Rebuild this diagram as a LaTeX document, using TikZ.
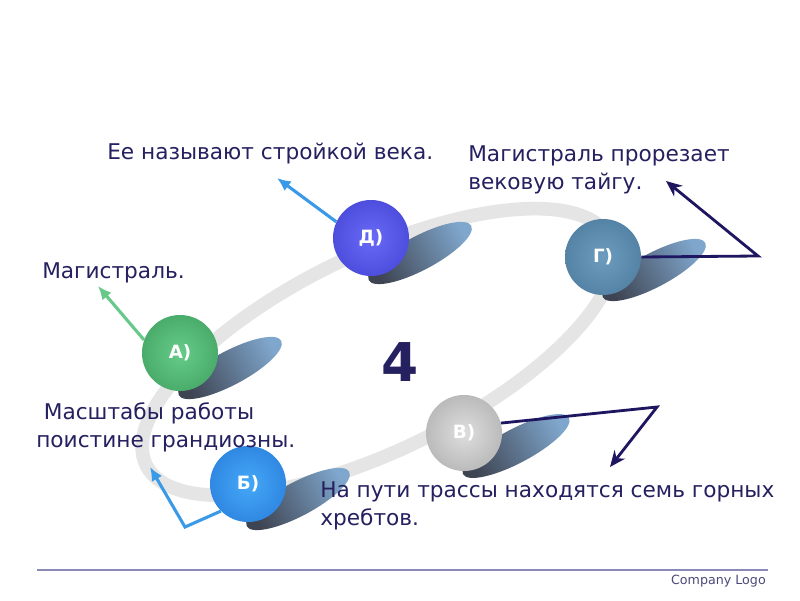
\documentclass[tikz,border=0pt]{standalone}
\usepackage{fontspec}
\setmainfont{DejaVu Sans}
\usepackage{tikz}
\usetikzlibrary{arrows.meta, positioning, calc}
\definecolor{inkblue}{HTML}{25205F}
\definecolor{ringgray}{HTML}{E5E5E5}
\definecolor{shaddark}{HTML}{3E4452}
\definecolor{shadlight}{HTML}{7FA6CC}
\definecolor{arrnavy}{HTML}{1E1660}
\definecolor{arrsky}{HTML}{3A9AE8}
\definecolor{arrgreen}{HTML}{66C98A}
\definecolor{logoline}{HTML}{8A8AB8}
\definecolor{logotext}{HTML}{4A4A7A}
\definecolor{ballin}{HTML}{FFFFFF}
\definecolor{ballout}{HTML}{000000}
\pgfdeclareradialshading[ballin,ballout]{ballshade}{\pgfpoint{0bp}{0bp}}{color(0bp)=(ballin); color(50bp)=(ballout)}
\tikzset{
  ball/.style 2 args={circle, minimum size=1.9cm, inner sep=0pt, font=\fontsize{13}{15}\selectfont\bfseries, text=white,
    /utils/exec={\definecolor{ballin}{HTML}{#1}\definecolor{ballout}{HTML}{#2}}, shade, shading=ballshade},
  ring/.style={draw=ringgray, line width=0.34cm},
  shadowblob/.style={left color=shaddark, right color=shadlight, shading angle=118},
  caption/.style={inner sep=0pt, align=left, font=\fontsize{15.4}{20}\selectfont, text=inkblue},
  navyflow/.style={-{Stealth[length=4mm, width=3.4mm]}, draw=arrnavy, line width=2pt},
  skyflow/.style={-{Latex[length=3.4mm, width=3mm]}, draw=arrsky, line width=2.2pt},
  greenflow/.style={-{Latex[length=3.4mm, width=3mm]}, draw=arrgreen, line width=2.2pt}
}
\begin{document}
\begin{tikzpicture}[x=0.025cm, y=0.025cm]
\useasboundingbox (0,0) rectangle (800,600);
\fill[white] (0,0) rectangle (800,600);
% orbit
\draw[ring] (378,248) ellipse [x radius=258, y radius=98, rotate=26];
% shadows
\shade[shadowblob] (230,232) ellipse [x radius=58, y radius=17, rotate=28];
\shade[shadowblob] (298,101) ellipse [x radius=58, y radius=17, rotate=28];
\shade[shadowblob] (516,154) ellipse [x radius=60, y radius=17, rotate=28];
\shade[shadowblob] (654,330) ellipse [x radius=58, y radius=17, rotate=28];
\shade[shadowblob] (420,347) ellipse [x radius=58, y radius=17, rotate=28];
% balls
\node[ball={66CC88}{2E8C4E}] (a) at (180,247) {А)};
\node[ball={45A8F8}{1A68CC}] (b) at (248,116) {Б)};
\node[ball={DEDEDE}{979797}] (v) at (464,167) {В)};
\node[ball={6C9CBE}{3C6A8C}] (g) at (603,343) {Г)};
\node[ball={6A6AF8}{3232C4}] (d) at (371,362) {Д)};
\node[font=\fontsize{38}{40}\selectfont\bfseries, text=inkblue] (four) at (400,238) {4};
% captions
\node[caption, anchor=west] (tvek) at (107,446) {Ее называют стройкой века.};
\node[caption, anchor=north west] (ttaiga) at (468,455) {Магистраль прорезает\\вековую тайгу.};
\node[caption, anchor=west] (tmag) at (42,327) {Магистраль.};
\node[caption, anchor=north west] (tmasht) at (36,198) {\hspace{0.35em}Масштабы работы\\поистине грандиозны.};
\node[caption, anchor=north west] (tkhreb) at (320,119) {На пути трассы находятся семь горных\\хребтов.};
% arrows
\coordinate (dtip) at (277,422);
\coordinate (atip) at (98,314);
\coordinate (bknee) at (185,73);
\coordinate (btip) at (150,133);
\coordinate (vknee) at (657,193);
\coordinate (vtip) at (610,133);
\coordinate (gknee) at (758,344);
\coordinate (gtip) at (666,419);
\draw[skyflow] (d.155) -- (dtip);
\draw[greenflow] (a.160) -- (atip);
\draw[skyflow] (b.225) -- (bknee) -- (btip);
\draw[navyflow] (v.15) -- (vknee) -- (vtip);
\draw[navyflow] (g.0) -- (gknee) -- (gtip);
% footer
\coordinate (lineL) at (37,30);
\coordinate (lineR) at (768,30);
\draw[logoline, line width=0.8pt] (lineL) -- (lineR);
\node[anchor=north east, inner sep=0pt, font=\fontsize{9}{11}\selectfont, text=logotext] (logo) at (766,25) {Company Logo};
\end{tikzpicture}
\end{document}
